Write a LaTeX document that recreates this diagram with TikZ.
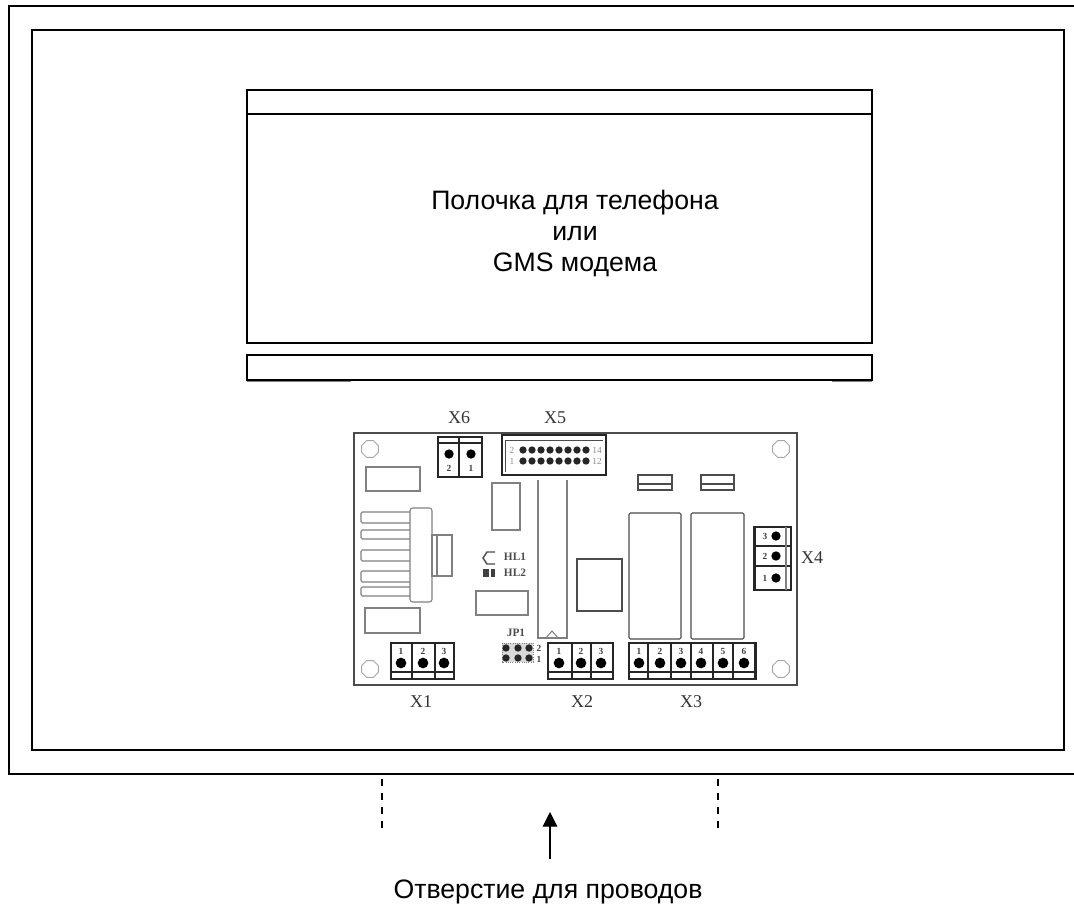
\documentclass[tikz,border=0pt]{standalone}
\usepackage{fontspec}
\setmainfont{Liberation Sans}
\newfontfamily\brd{Liberation Serif}
\usetikzlibrary{arrows.meta,shapes.geometric}
\definecolor{pcb}{gray}{0.3}
\definecolor{pcbl}{gray}{0.5}
\tikzset{
 x=0.75pt,y=-0.75pt,
 frame/.style={draw=black,line width=0.95pt},
 pl/.style={draw=pcb,line width=0.85pt},
 thin part/.style={draw=pcbl,line width=0.8pt},
 term/.style={draw=black!85,line width=1.05pt},
 pin/.style={circle,fill=black,inner sep=0pt,minimum size=7pt},
 small pin/.style={circle,fill=black!85,inner sep=0pt,minimum size=5pt},
 hole/.style={regular polygon,regular polygon sides=8,draw=pcbl!70,line width=.7pt,inner sep=0pt,minimum size=13.5pt},
 captext/.style={font=\fontsize{20}{23.25}\selectfont,inner sep=0pt,align=center},
 xlab/.style={font=\brd\fontsize{13.5}{15}\selectfont,text=black!80,inner sep=0pt},
 tiny/.style={font=\brd\bfseries\fontsize{7}{8}\selectfont,text=black!75,inner sep=0pt},
 tinyb/.style={font=\brd\bfseries\fontsize{8.5}{9}\selectfont,text=black!70,inner sep=0pt},
 tinyg/.style={font=\brd\fontsize{7}{8}\selectfont,text=black!45,inner sep=0pt},
 dashline/.style={draw=black,line width=1pt,dash pattern=on 5.25pt off 5.25pt},
}
\begin{document}
\begin{tikzpicture}
\useasboundingbox (0,0) rectangle (1074,905);
% housing
\draw[frame] (1074,6) -- (9,6) -- (9,774) -- (1074,774);
\draw[frame] (32,30) rectangle (1064,750);
% shelf
\draw[frame] (247,90) rectangle (872,343);
\draw[frame] (247,114) -- (872,114);
\draw[frame] (247,355) rectangle (872,380);
\draw[draw=pcbl,line width=.7pt] (247,381) -- (351,381) (832,381) -- (872,381);
\node[captext] (shelf) at (575,233) {Полочка для телефона\\или\\GMS модема};
% board
\draw[pl,line width=1pt] (354,433) rectangle (797,685);
\node[hole] (h1) at (370,449) {};
\node[hole] (h2) at (370,669) {};
\node[hole] (h3) at (781,449) {};
\node[hole] (h4) at (781,669) {};
% left parts
\draw[thin part] (366,467) rectangle (420,491);
\draw[thin part] (365,608) rectangle (420,633);
\draw[thin part] (492,483) rectangle (520,530);
\draw[thin part] (476,591) rectangle (528,615);
\foreach \a/\b in {512/523,530/539,550/561,571/582,587/596}
  \draw[thin part,rounded corners=1pt] (410,\a) -- (361,\a) -- (361,\b) -- (410,\b);
\draw[thin part,rounded corners=2pt] (410,508) rectangle (432,602);
\draw[thin part] (432,535) rectangle (452,576) (437,535) -- (437,576);
% IC and square
\draw[thin part] (538,480) -- (538,638) -- (567,638) -- (567,480);
\draw[thin part] (546,638) -- (552,631) -- (558,638);
\draw[pl] (623,559) -- (577,559) -- (577,611) -- (622,611) -- (622,559);
% relays and fuses
\draw[pl,rounded corners=1pt] (629,513) rectangle (681,639);
\draw[pl,rounded corners=1pt] (691,513) rectangle (744,639);
\draw[pl] (638,475) rectangle (672,490) (638,484) -- (672,484);
\draw[pl] (701,475) rectangle (734,490) (701,484) -- (734,484);
% X6
\draw[term] (438,437) rectangle (482,477) (459,437) -- (459,477) (438,443) -- (482,443);
\node[pin] (x6b) at (449,454) {};
\node[pin] (x6a) at (471,454) {};
\node[tiny] at (449,468) {2};
\node[tiny] at (471,468) {1};
% X5
\draw[term,line width=1.5pt] (502,435) rectangle (606,475);
\draw[pl,line width=.7pt] (505,440) -- (603,440) (505,440) -- (505,472);
\foreach \i in {0,...,7} {
  \node[small pin,minimum size=5.5pt] at ({523+9*\i},450) {};
  \node[small pin,minimum size=5.5pt] at ({523+9*\i},461) {};
}
\node[tinyg] at (512,450) {2};
\node[tinyg] at (512,461) {1};
\node[tinyg] at (597,450) {14};
\node[tinyg] at (597,461) {12};
% X1
\draw[term] (391,643) rectangle (454,679) (391,672) -- (454,672);
\draw[term] (412,643) -- (412,679) (435,643) -- (435,679);
\foreach \x/\t in {401/1,423/2,444/3} {
  \node[pin,minimum size=8pt] at (\x,663) {};
  \node[tiny] at (\x,651) {\t};
}
% X2
\draw[term] (548,643) rectangle (613,679) (548,672) -- (613,672);
\draw[term] (572,643) -- (572,679) (591,643) -- (591,679);
\foreach \x/\t in {559/1,581/2,601/3} {
  \node[pin,minimum size=8pt] at (\x,663) {};
  \node[tiny] at (\x,651) {\t};
}
% X3
\draw[term] (629,643) rectangle (756,679) (629,672) -- (756,672);
\foreach \x in {648,671,691,713,733} \draw[term] (\x,643) -- (\x,679);
\draw[term,line width=1.6pt] (755,643) -- (755,679);
\foreach \x/\t in {639/1,660/2,681/3,701/4,723/5,744/6} {
  \node[pin,minimum size=8pt] at (\x,663) {};
  \node[tiny] at (\x,651) {\t};
}
% X4
\draw[term] (754,527) rectangle (791,590) (754,546) -- (791,546) (754,566) -- (791,566);
\draw[term,line width=1.5pt] (755,527) -- (755,590);
\draw[thin part] (786,527) -- (786,590);
\foreach \y/\t in {536/3,556/2,578/1} {
  \node[pin] at (776,\y) {};
  \node[tiny] at (765,\y) {\t};
}
% JP1
\draw[draw=pcbl,fill=black!15,line width=.7pt,densely dotted] (502,643) rectangle (533,662);
\foreach \x in {506,518,529} {
  \node[small pin,minimum size=5.5pt] at (\x,648) {};
  \node[small pin,minimum size=5.5pt] at (\x,658) {};
}
\node[tinyb] at (516,633) {JP1};
\node[tiny] at (539,648) {2};
\node[tiny] at (539,659) {1};
% HL
\draw[pl,line width=1.1pt] (495,552) -- (487,552) -- (483,558) -- (487,564) -- (495,564);
\node[fill=black!75,minimum width=4pt,minimum height=5.5pt,inner sep=0pt] (leda) at (486,573) {};
\node[fill=black!75,minimum width=3.5pt,minimum height=5.5pt,inner sep=0pt] (ledb) at (493,573) {};
\node[tinyb] at (515,557) {HL1};
\node[tinyb] at (515,573) {HL2};
% connector names
\node[xlab] (x6) at (459,418) {X6};
\node[xlab] (x5) at (555,418) {X5};
\node[xlab] (x1) at (421,702) {X1};
\node[xlab] (x2) at (582,702) {X2};
\node[xlab] (x3) at (691,702) {X3};
\node[xlab] (x4) at (812,558) {X4};
% wire opening
\coordinate (d1a) at (382,779); \coordinate (d1b) at (382,829);
\coordinate (d2a) at (718,779); \coordinate (d2b) at (718,829);
\draw[dashline] (d1a) -- (d1b);
\draw[dashline] (d2a) -- (d2b);
\coordinate (tip) at (550,812);
\coordinate (tail) at (550,859);
\draw[black,line width=.9pt,-{Triangle[length=11pt,width=11pt]}] (tail) -- (tip);
\node[captext] (opening) at (548,891.5) {Отверстие для проводов};
\end{tikzpicture}
\end{document}
